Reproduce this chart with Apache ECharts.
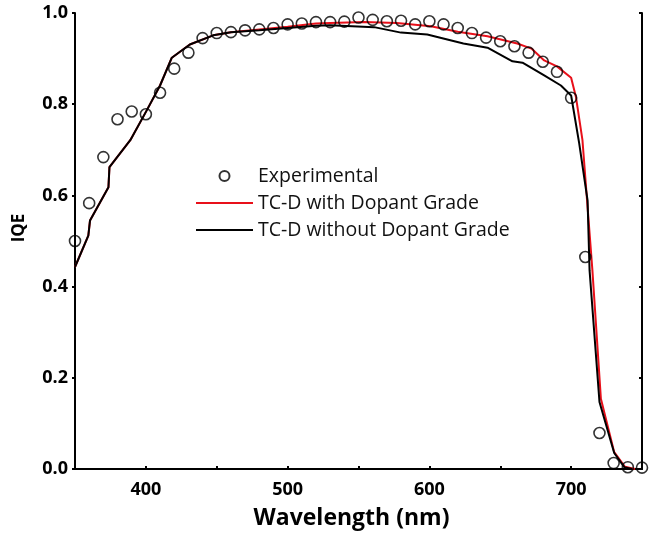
<!DOCTYPE html>
<html>
<head>
<meta charset="utf-8">
<title>IQE</title>
<script src="https://cdn.jsdelivr.net/npm/echarts@6/dist/echarts.min.js"></script>
<style>
html,body{margin:0;padding:0;background:#fff;}
#chart{width:660px;height:538px;}
</style>
</head>
<body>
<div id="chart"></div>
<script>
// measured points
var expWl = [350,360,370,380,390,400,410,420,430,440,450,460,470,480,490,500,510,520,530,540,
             550,560,570,580,590,600,610,620,630,640,650,660,670,680,690,700,710,720,730,740,750];
var expIqe = [0.50,0.583,0.684,0.767,0.784,0.778,0.825,0.878,0.913,0.945,0.956,0.958,0.962,0.964,0.967,0.975,0.977,0.980,0.980,0.981,
              0.990,0.985,0.982,0.983,0.975,0.982,0.975,0.967,0.956,0.946,0.938,0.927,0.913,0.893,0.871,0.814,0.465,0.079,0.013,0.004,0.003];

// TC-D with Dopant Grade (red)
var withWl = [350,359.4,360.6,373.6,374.3,389,400.7,410,418.3,431,447.5,460,480,500,520,530,554,577,601,620,641,662,672,681,690,700,703.4,708,715,721,730.4,738,745];
var withIqe = [0.443,0.512,0.545,0.618,0.662,0.721,0.787,0.841,0.902,0.931,0.951,0.958,0.964,0.970,0.977,0.978,0.980,0.978,0.971,0.959,0.949,0.933,0.922,0.896,0.883,0.858,0.816,0.721,0.436,0.154,0.037,0.005,0];

// TC-D without Dopant Grade (black)
var withoutWl = [350,359.4,360.6,373.6,374.3,389,400.7,410,418.3,431,447.5,460,480,500,520,530,561,580,598.5,624,641,658.6,665.7,681,692.8,700,705.7,711.6,713,720,730.4,737.5,743];
var withoutIqe = [0.443,0.512,0.545,0.618,0.662,0.721,0.787,0.841,0.902,0.931,0.951,0.958,0.962,0.967,0.972,0.973,0.969,0.957,0.953,0.933,0.924,0.894,0.891,0.863,0.841,0.819,0.714,0.589,0.436,0.147,0.035,0.004,0];

var xTicks = [400,500,600,700];

function pairs(a, b){
	var out = [];
	for(var i=0;i<a.length;i++){ out.push([a[i], b[i]]); }
	return out;
}

var font = '"Open Sans", "Liberation Sans", sans-serif';
var chart = echarts.init(document.getElementById('chart'), null, {renderer:'canvas'});

chart.setOption({
	animation:false,
	backgroundColor:'#fff',
	grid:{left:75, right:18, top:13, bottom:69},
	legend:{
		orient:'vertical',
		left:190, top:161,
		itemWidth:57, itemHeight:10, itemGap:7,
		textStyle:{fontFamily:font, fontSize:19.5, lineHeight:20, color:'#111'},
		data:[
			{name:'Experimental'},
			{name:'TC-D with Dopant Grade', itemStyle:{opacity:0}},
			{name:'TC-D without Dopant Grade', itemStyle:{opacity:0}}
		]
	},
	xAxis:[{
		type:'value', min:350, max:750, interval:50,
		name:'Wavelength (nm)', nameLocation:'middle', nameGap:38,
		nameTextStyle:{fontFamily:font, fontSize:23, fontWeight:'bold', color:'#000', padding:[0,14,0,0]},
		axisLine:{lineStyle:{color:'#000', width:2}},
		axisTick:{inside:true, length:3, lineStyle:{color:'#000', width:2},
			interval:function(i,v){ return xTicks.indexOf(v) >= 0; }},
		axisLabel:{fontFamily:font, fontSize:18, fontWeight:'bold', color:'#000', margin:12,
			formatter:function(v){ return xTicks.indexOf(v) >= 0 ? String(v) : ''; }},
		splitLine:{show:false}
	},{
		type:'value', position:'top', min:350, max:750, interval:50,
		axisLine:{show:true, lineStyle:{color:'#000', width:2}},
		axisTick:{show:false},
		axisLabel:{show:false},
		splitLine:{show:false}
	}],
	yAxis:[{
		type:'value', min:0, max:1, interval:0.2,
		name:'IQE', nameLocation:'middle', nameGap:47, nameRotate:90,
		nameTextStyle:{fontFamily:font, fontSize:17, fontWeight:'bold', color:'#000', padding:[0,0,0,26]},
		axisLine:{show:true, lineStyle:{color:'#000', width:2}},
		axisTick:{show:true, length:3, lineStyle:{color:'#000', width:2}},
		axisLabel:{fontFamily:font, fontSize:18, fontWeight:'bold', color:'#000', margin:7,
			formatter:function(v){ return v.toFixed(1); }},
		splitLine:{show:false}
	},{
		type:'value', position:'right', min:0, max:1, interval:0.2,
		axisLine:{show:true, lineStyle:{color:'#000', width:2}},
		axisTick:{show:true, inside:true, length:3, lineStyle:{color:'#000', width:2}},
		axisLabel:{show:false},
		splitLine:{show:false}
	}],
	series:[{
		name:'Experimental',
		type:'scatter',
		symbol:'circle',
		symbolSize:11,
		itemStyle:{color:'rgba(255,255,255,0)', borderColor:'#000', borderWidth:1.6},
		data:pairs(expWl, expIqe),
		z:3
	},{
		name:'TC-D with Dopant Grade',
		type:'line',
		showSymbol:false, symbol:'none',
		lineStyle:{color:'#e8101a', width:2},
		itemStyle:{color:'#e8101a'},
		data:pairs(withWl, withIqe),
		z:2
	},{
		name:'TC-D without Dopant Grade',
		type:'line',
		showSymbol:false, symbol:'none',
		lineStyle:{color:'#000', width:2},
		itemStyle:{color:'#000'},
		data:pairs(withoutWl, withoutIqe),
		z:2
	}]
});
</script>
</body>
</html>
